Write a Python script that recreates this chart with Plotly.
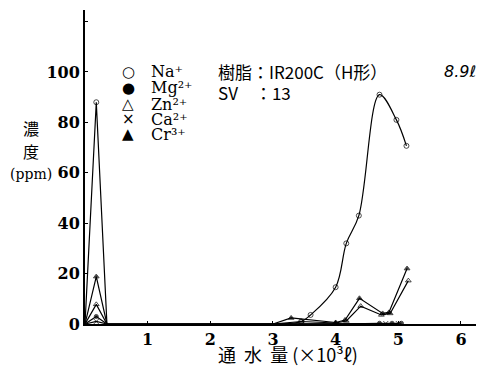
import plotly.graph_objects as go

# ---- data (x: 通水量 ×10^3 ℓ, y: 濃度 ppm) ----
na_early_x = [0.0, 0.18, 0.35]
na_early_y = [0.0, 88.0, 0.0]
na_x = [3.0, 3.45, 3.6, 4.0, 4.17, 4.37, 4.7, 4.97, 5.13]
na_y = [0.0, 1.0, 3.6, 14.6, 32.0, 43.0, 91.0, 81.0, 70.7]

mg_x = [0.0, 0.18, 0.35, 3.0, 4.0, 4.7, 4.9, 5.05]
mg_y = [0.0, 3.0, 0.0, 0.0, 0.0, 0.3, 0.3, 0.3]

zn_x = [0.0, 0.18, 0.35, 3.0, 3.45, 4.0, 4.17, 4.40, 4.73, 4.87, 5.16]
zn_y = [0.0, 7.8, 0.0, 0.0, 1.0, 0.4, 1.2, 7.1, 3.6, 4.2, 17.2]

ca_x = [0.0, 0.18, 0.35, 3.0, 4.1, 4.8, 5.0]
ca_y = [0.0, 1.0, 0.0, 0.0, 0.0, 0.2, 0.2]

cr_x = [0.0, 0.18, 0.35, 3.0, 3.29, 4.0, 4.15, 4.38, 4.75, 4.85, 5.14]
cr_y = [0.0, 18.8, 0.0, 0.0, 2.4, 0.6, 1.6, 10.2, 4.2, 4.6, 22.0]

y_ticks = [0, 20, 40, 60, 80, 100, 120]
y_tick_labels = ["0", "20", "40", "60", "80", "100", ""]
x_ticks = [1, 2, 3, 4, 5, 6]
x_tick_labels = ["1", "2", "3", "4", "5", "6"]

legend_names = ["Na⁺", "Mg²⁺", "Zn²⁺", "Ca²⁺", "Cr³⁺"]
legend_glyphs = ["○", "●", "△", "×", "▲"]

SERIF = "DejaVu Serif"
CJK = "Noto Sans CJK JP"

fig = go.Figure()

def add(x, y, symbol, size=5, shape="linear"):
    sizes = [0 if v == 0 else size for v in y]
    fig.add_trace(go.Scatter(
        x=x, y=y, mode="lines+markers",
        line=dict(color="black", width=1.2, shape=shape, smoothing=1.0),
        marker=dict(symbol=symbol, size=sizes, color="black",
                    line=dict(color="black", width=1)),
        showlegend=False, cliponaxis=False))

add(ca_x, ca_y, "x-thin-open", 5)
add(mg_x, mg_y, "circle", 4)
add(zn_x, zn_y, "triangle-up-open", 5)
add(cr_x, cr_y, "triangle-up", 5)
add(na_early_x, na_early_y, "circle-open", 5)
add(na_x, na_y, "circle-open", 5, shape="spline")

# the page body has an 8px margin, so the figure is offset by 8px
OFF = 8
W, H = 484 - OFF, 376 - OFF
L, R, T, B = 85 - OFF, 8, 10 - OFF, 52
pw, ph = W - L - R, H - T - B

def px(x):
    return (x - OFF - L) / pw

def py(y):
    return (H - B - (y - OFF)) / ph

def note(x, y, text, fam, size, anchor="left", style="normal"):
    return dict(x=px(x), y=py(y), text=text, showarrow=False,
                xref="paper", yref="paper", xanchor=anchor, yanchor="middle",
                font=dict(family=fam, size=size, color="black", style=style))

ann = []
rows = [72, 88, 104, 119, 134]
for g, n, r in zip(legend_glyphs, legend_names, rows):
    ann.append(note(128, r, g, "DejaVu Sans", 15, "center"))
    ann.append(note(149, r, n, SERIF, 16))

ann.append(note(216, 72, "樹脂：IR200C（H形）", CJK, 17))
ann.append(note(442, 72, "8.9ℓ", "DejaVu Sans", 16, "left", "italic"))
ann.append(note(216, 92, "SV　：13", CJK, 17))
ann.append(note(31, 128, "濃", CJK, 16, "center"))
ann.append(note(31, 151, "度", CJK, 16, "center"))
ann.append(note(31, 174, "(ppm)", SERIF, 14, "center"))
ann.append(note(288, 354, "通  水  量 (×10³ℓ)", CJK, 18, "center"))

tick_font = dict(family=SERIF, size=16, color="black", weight="bold")

fig.update_layout(
    width=W, height=H,
    margin=dict(l=L, r=R, t=T, b=B, autoexpand=False),
    paper_bgcolor="white", plot_bgcolor="white",
    showlegend=False,
    annotations=ann,
    xaxis=dict(range=[0, 6.24], tickvals=x_ticks, ticktext=x_tick_labels,
               automargin=False,
               showgrid=False, zeroline=False, showline=True,
               linecolor="black", linewidth=2, ticks="inside", ticklen=3,
               tickcolor="black", tickfont=tick_font),
    yaxis=dict(range=[0, 124.6], tickvals=y_ticks, ticktext=y_tick_labels,
               automargin=False,
               showgrid=False, zeroline=False, showline=True,
               linecolor="black", linewidth=2, ticks="inside", ticklen=3,
               tickcolor="black", tickfont=tick_font),
)

fig.write_html("out.html")
